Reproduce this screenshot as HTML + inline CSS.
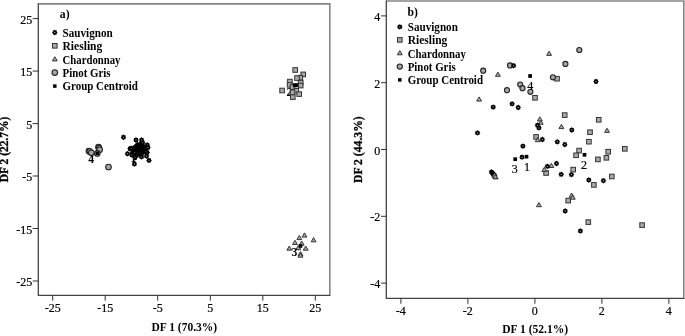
<!DOCTYPE html>
<html><head><meta charset="utf-8"><title>Discriminant function plots</title>
<style>html,body{margin:0;padding:0;background:#fff}svg{display:block}text{font-family:"Liberation Serif",serif;fill:#000}.r{stroke:#000;stroke-width:.1px}.r2{stroke:#000;stroke-width:.2px}.b{font-weight:bold}</style></head><body>
<svg width="685" height="336" viewBox="0 0 685 336">
<rect width="685" height="336" fill="#fff"/>
<g id="panel-a">
<path d="M38.3 3.9H329.8V295.3" fill="none" stroke="#858585" stroke-width="1.6"/>
<path d="M38.3 3.3V295.3H330.4" fill="none" stroke="#444" stroke-width="1.3"/>
<line x1="32.7" y1="18.6" x2="38.3" y2="18.6" stroke="#262626" stroke-width="0.95"/>
<text x="32.20" y="23.80" font-size="12" class="r2" text-anchor="end">25</text>
<line x1="315.3" y1="295.3" x2="315.3" y2="300.7" stroke="#262626" stroke-width="0.95"/>
<text x="315.30" y="312.40" font-size="12" class="r2" text-anchor="middle">25</text>
<line x1="32.7" y1="71.1" x2="38.3" y2="71.1" stroke="#262626" stroke-width="0.95"/>
<text x="32.20" y="76.28" font-size="12" class="r2" text-anchor="end">15</text>
<line x1="262.8" y1="295.3" x2="262.8" y2="300.7" stroke="#262626" stroke-width="0.95"/>
<text x="262.78" y="312.40" font-size="12" class="r2" text-anchor="middle">15</text>
<line x1="32.7" y1="123.6" x2="38.3" y2="123.6" stroke="#262626" stroke-width="0.95"/>
<text x="32.20" y="128.76" font-size="12" class="r2" text-anchor="end">5</text>
<line x1="210.3" y1="295.3" x2="210.3" y2="300.7" stroke="#262626" stroke-width="0.95"/>
<text x="210.26" y="312.40" font-size="12" class="r2" text-anchor="middle">5</text>
<line x1="32.7" y1="176.0" x2="38.3" y2="176.0" stroke="#262626" stroke-width="0.95"/>
<text x="32.20" y="181.24" font-size="12" class="r2" text-anchor="end">-5</text>
<line x1="157.7" y1="295.3" x2="157.7" y2="300.7" stroke="#262626" stroke-width="0.95"/>
<text x="157.74" y="312.40" font-size="12" class="r2" text-anchor="middle">-5</text>
<line x1="32.7" y1="228.5" x2="38.3" y2="228.5" stroke="#262626" stroke-width="0.95"/>
<text x="32.20" y="233.72" font-size="12" class="r2" text-anchor="end">-15</text>
<line x1="105.2" y1="295.3" x2="105.2" y2="300.7" stroke="#262626" stroke-width="0.95"/>
<text x="105.22" y="312.40" font-size="12" class="r2" text-anchor="middle">-15</text>
<line x1="32.7" y1="281.0" x2="38.3" y2="281.0" stroke="#262626" stroke-width="0.95"/>
<text x="32.20" y="286.20" font-size="12" class="r2" text-anchor="end">-25</text>
<line x1="52.7" y1="295.3" x2="52.7" y2="300.7" stroke="#262626" stroke-width="0.95"/>
<text x="52.70" y="312.40" font-size="12" class="r2" text-anchor="middle">-25</text>
<text x="151.40" y="330.60" font-size="11.5" class="b" textLength="65.8" lengthAdjust="spacingAndGlyphs">DF 1 (70.3%)</text>
<text transform="translate(8.0,182.2) rotate(-90)" font-size="11.5" class="b" stroke="#000" stroke-width="0.3" textLength="65.6" lengthAdjust="spacingAndGlyphs">DF 2 (22.7%)</text>
<text x="59.80" y="18.20" font-size="11.7" class="b">a)</text>
<polygon points="57.75,32.50 56.93,33.07 56.71,33.60 56.89,34.59 55.90,34.41 55.37,34.63 54.80,35.45 54.23,34.63 53.70,34.41 52.71,34.59 52.89,33.60 52.67,33.07 51.85,32.50 52.67,31.93 52.89,31.40 52.71,30.41 53.70,30.59 54.23,30.37 54.80,29.55 55.37,30.37 55.90,30.59 56.89,30.41 56.71,31.40 56.93,31.93" fill="#000"/><ellipse cx="54.80" cy="32.50" rx="0.70" ry="0.48" fill="#fff"/>
<text x="62.50" y="36.70" font-size="11.7" class="b" textLength="50.2" lengthAdjust="spacingAndGlyphs">Sauvignon</text>
<rect x="52.50" y="43.50" width="4.60" height="4.60" fill="#a9a9a9" stroke="#333" stroke-width="1"/>
<text x="62.50" y="49.70" font-size="11.7" class="b" textLength="39.8" lengthAdjust="spacingAndGlyphs">Riesling</text>
<polygon points="54.80,56.70 57.25,60.90 52.35,60.90" fill="#a4a4a4" stroke="#303030" stroke-width="0.95" stroke-linejoin="miter"/>
<text x="62.50" y="63.70" font-size="11.7" class="b" textLength="58.0" lengthAdjust="spacingAndGlyphs">Chardonnay</text>
<circle cx="54.80" cy="72.60" r="2.80" fill="#a6a6a6" stroke="#222" stroke-width="1.1"/>
<text x="62.50" y="76.90" font-size="11.7" class="b" textLength="48.0" lengthAdjust="spacingAndGlyphs">Pinot Gris</text>
<rect x="53.05" y="84.35" width="3.50" height="3.50" fill="#000"/>
<text x="62.50" y="90.40" font-size="11.7" class="b" textLength="75.3" lengthAdjust="spacingAndGlyphs">Group Centroid</text>
<circle cx="88.90" cy="151.00" r="2.80" fill="#a6a6a6" stroke="#222" stroke-width="1.1"/>
<circle cx="89.80" cy="151.60" r="2.80" fill="#a6a6a6" stroke="#222" stroke-width="1.1"/>
<circle cx="91.30" cy="152.80" r="2.80" fill="#a6a6a6" stroke="#222" stroke-width="1.1"/>
<circle cx="98.50" cy="147.10" r="2.80" fill="#a6a6a6" stroke="#222" stroke-width="1.1"/>
<circle cx="99.00" cy="148.20" r="2.80" fill="#a6a6a6" stroke="#222" stroke-width="1.1"/>
<circle cx="99.60" cy="149.80" r="2.80" fill="#a6a6a6" stroke="#222" stroke-width="1.1"/>
<circle cx="97.30" cy="153.40" r="2.80" fill="#a6a6a6" stroke="#222" stroke-width="1.1"/>
<circle cx="108.50" cy="167.00" r="2.80" fill="#a6a6a6" stroke="#222" stroke-width="1.1"/>
<rect x="95.60" y="151.60" width="3.40" height="3.40" fill="#000"/>
<text x="91.20" y="162.80" font-size="11.7" class="b" text-anchor="middle">4</text>
<text x="289.30" y="95.50" font-size="11.7" class="b" text-anchor="middle">2</text>
<rect x="292.90" y="67.70" width="4.60" height="4.60" fill="#a9a9a9" stroke="#333" stroke-width="1"/>
<rect x="300.90" y="72.10" width="4.60" height="4.60" fill="#a9a9a9" stroke="#333" stroke-width="1"/>
<rect x="298.00" y="75.40" width="4.60" height="4.60" fill="#a9a9a9" stroke="#333" stroke-width="1"/>
<rect x="294.70" y="75.80" width="4.60" height="4.60" fill="#a9a9a9" stroke="#333" stroke-width="1"/>
<rect x="287.60" y="79.30" width="4.60" height="4.60" fill="#a9a9a9" stroke="#333" stroke-width="1"/>
<rect x="298.40" y="80.30" width="4.60" height="4.60" fill="#a9a9a9" stroke="#333" stroke-width="1"/>
<rect x="298.40" y="83.30" width="4.60" height="4.60" fill="#a9a9a9" stroke="#333" stroke-width="1"/>
<rect x="287.30" y="82.60" width="4.60" height="4.60" fill="#a9a9a9" stroke="#333" stroke-width="1"/>
<rect x="279.80" y="88.20" width="4.60" height="4.60" fill="#a9a9a9" stroke="#333" stroke-width="1"/>
<rect x="290.20" y="84.80" width="4.60" height="4.60" fill="#a9a9a9" stroke="#333" stroke-width="1"/>
<rect x="293.95" y="88.50" width="4.60" height="4.60" fill="#a9a9a9" stroke="#333" stroke-width="1"/>
<rect x="290.20" y="90.00" width="4.60" height="4.60" fill="#a9a9a9" stroke="#333" stroke-width="1"/>
<rect x="296.90" y="91.80" width="4.60" height="4.60" fill="#a9a9a9" stroke="#333" stroke-width="1"/>
<rect x="290.50" y="94.80" width="4.60" height="4.60" fill="#a9a9a9" stroke="#333" stroke-width="1"/>
<rect x="293" y="83.2" width="5" height="4" fill="#000"/>
<polygon points="304.50,232.90 306.95,237.10 302.05,237.10" fill="#a4a4a4" stroke="#303030" stroke-width="0.95" stroke-linejoin="miter"/>
<polygon points="299.30,235.40 301.75,239.60 296.85,239.60" fill="#a4a4a4" stroke="#303030" stroke-width="0.95" stroke-linejoin="miter"/>
<polygon points="313.60,237.60 316.05,241.80 311.15,241.80" fill="#a4a4a4" stroke="#303030" stroke-width="0.95" stroke-linejoin="miter"/>
<polygon points="295.00,240.30 297.45,244.50 292.55,244.50" fill="#a4a4a4" stroke="#303030" stroke-width="0.95" stroke-linejoin="miter"/>
<polygon points="301.70,241.00 304.15,245.20 299.25,245.20" fill="#a4a4a4" stroke="#303030" stroke-width="0.95" stroke-linejoin="miter"/>
<polygon points="289.30,246.00 291.75,250.20 286.85,250.20" fill="#a4a4a4" stroke="#303030" stroke-width="0.95" stroke-linejoin="miter"/>
<polygon points="305.70,246.00 308.15,250.20 303.25,250.20" fill="#a4a4a4" stroke="#303030" stroke-width="0.95" stroke-linejoin="miter"/>
<polygon points="298.30,245.50 300.75,249.70 295.85,249.70" fill="#a4a4a4" stroke="#303030" stroke-width="0.95" stroke-linejoin="miter"/>
<polygon points="300.50,251.50 302.95,255.70 298.05,255.70" fill="#a4a4a4" stroke="#303030" stroke-width="0.95" stroke-linejoin="miter"/>
<polygon points="300.50,253.00 302.95,257.20 298.05,257.20" fill="#a4a4a4" stroke="#303030" stroke-width="0.95" stroke-linejoin="miter"/>
<rect x="298.70" y="244.20" width="3.60" height="3.60" fill="#000"/>
<text x="294.50" y="255.70" font-size="11.7" class="b" text-anchor="middle">3</text>
<text x="133.50" y="161.50" font-size="11.7" class="b" text-anchor="middle">1</text>
<ellipse cx="139.6" cy="149.2" rx="7.6" ry="6.2" fill="#000"/>
<polygon points="126.45,137.25 125.63,137.82 125.41,138.35 125.59,139.34 124.60,139.16 124.07,139.38 123.50,140.20 122.93,139.38 122.40,139.16 121.41,139.34 121.59,138.35 121.37,137.82 120.55,137.25 121.37,136.68 121.59,136.15 121.41,135.16 122.40,135.34 122.93,135.12 123.50,134.30 124.07,135.12 124.60,135.34 125.59,135.16 125.41,136.15 125.63,136.68" fill="#000"/><ellipse cx="123.50" cy="137.25" rx="0.61" ry="0.42" fill="#fff"/>
<polygon points="138.95,140.00 138.13,140.57 137.91,141.10 138.09,142.09 137.10,141.91 136.57,142.13 136.00,142.95 135.43,142.13 134.90,141.91 133.91,142.09 134.09,141.10 133.87,140.57 133.05,140.00 133.87,139.43 134.09,138.90 133.91,137.91 134.90,138.09 135.43,137.87 136.00,137.05 136.57,137.87 137.10,138.09 138.09,137.91 137.91,138.90 138.13,139.43" fill="#000"/><ellipse cx="136.00" cy="140.00" rx="0.61" ry="0.42" fill="#fff"/>
<polygon points="144.55,140.00 143.73,140.57 143.51,141.10 143.69,142.09 142.70,141.91 142.17,142.13 141.60,142.95 141.03,142.13 140.50,141.91 139.51,142.09 139.69,141.10 139.47,140.57 138.65,140.00 139.47,139.43 139.69,138.90 139.51,137.91 140.50,138.09 141.03,137.87 141.60,137.05 142.17,137.87 142.70,138.09 143.69,137.91 143.51,138.90 143.73,139.43" fill="#000"/><ellipse cx="141.60" cy="140.00" rx="0.61" ry="0.42" fill="#fff"/>
<polygon points="132.95,148.75 132.13,149.32 131.91,149.85 132.09,150.84 131.10,150.66 130.57,150.88 130.00,151.70 129.43,150.88 128.90,150.66 127.91,150.84 128.09,149.85 127.87,149.32 127.05,148.75 127.87,148.18 128.09,147.65 127.91,146.66 128.90,146.84 129.43,146.62 130.00,145.80 130.57,146.62 131.10,146.84 132.09,146.66 131.91,147.65 132.13,148.18" fill="#000"/><ellipse cx="130.00" cy="148.75" rx="0.61" ry="0.42" fill="#fff"/>
<polygon points="130.45,153.75 129.63,154.32 129.41,154.85 129.59,155.84 128.60,155.66 128.07,155.88 127.50,156.70 126.93,155.88 126.40,155.66 125.41,155.84 125.59,154.85 125.37,154.32 124.55,153.75 125.37,153.18 125.59,152.65 125.41,151.66 126.40,151.84 126.93,151.62 127.50,150.80 128.07,151.62 128.60,151.84 129.59,151.66 129.41,152.65 129.63,153.18" fill="#000"/><ellipse cx="127.50" cy="153.75" rx="0.61" ry="0.42" fill="#fff"/>
<polygon points="134.85,155.00 134.03,155.57 133.81,156.10 133.99,157.09 133.00,156.91 132.47,157.13 131.90,157.95 131.33,157.13 130.80,156.91 129.81,157.09 129.99,156.10 129.77,155.57 128.95,155.00 129.77,154.43 129.99,153.90 129.81,152.91 130.80,153.09 131.33,152.87 131.90,152.05 132.47,152.87 133.00,153.09 133.99,152.91 133.81,153.90 134.03,154.43" fill="#000"/><ellipse cx="131.90" cy="155.00" rx="0.61" ry="0.42" fill="#fff"/>
<polygon points="150.20,145.00 149.38,145.57 149.16,146.10 149.34,147.09 148.35,146.91 147.82,147.13 147.25,147.95 146.68,147.13 146.15,146.91 145.16,147.09 145.34,146.10 145.12,145.57 144.30,145.00 145.12,144.43 145.34,143.90 145.16,142.91 146.15,143.09 146.68,142.87 147.25,142.05 147.82,142.87 148.35,143.09 149.34,142.91 149.16,143.90 149.38,144.43" fill="#000"/><ellipse cx="147.25" cy="145.00" rx="0.61" ry="0.42" fill="#fff"/>
<polygon points="150.95,147.50 150.13,148.07 149.91,148.60 150.09,149.59 149.10,149.41 148.57,149.63 148.00,150.45 147.43,149.63 146.90,149.41 145.91,149.59 146.09,148.60 145.87,148.07 145.05,147.50 145.87,146.93 146.09,146.40 145.91,145.41 146.90,145.59 147.43,145.37 148.00,144.55 148.57,145.37 149.10,145.59 150.09,145.41 149.91,146.40 150.13,146.93" fill="#000"/><ellipse cx="148.00" cy="147.50" rx="0.61" ry="0.42" fill="#fff"/>
<polygon points="150.20,152.50 149.38,153.07 149.16,153.60 149.34,154.59 148.35,154.41 147.82,154.63 147.25,155.45 146.68,154.63 146.15,154.41 145.16,154.59 145.34,153.60 145.12,153.07 144.30,152.50 145.12,151.93 145.34,151.40 145.16,150.41 146.15,150.59 146.68,150.37 147.25,149.55 147.82,150.37 148.35,150.59 149.34,150.41 149.16,151.40 149.38,151.93" fill="#000"/><ellipse cx="147.25" cy="152.50" rx="0.61" ry="0.42" fill="#fff"/>
<polygon points="149.45,156.00 148.63,156.57 148.41,157.10 148.59,158.09 147.60,157.91 147.07,158.13 146.50,158.95 145.93,158.13 145.40,157.91 144.41,158.09 144.59,157.10 144.37,156.57 143.55,156.00 144.37,155.43 144.59,154.90 144.41,153.91 145.40,154.09 145.93,153.87 146.50,153.05 147.07,153.87 147.60,154.09 148.59,153.91 148.41,154.90 148.63,155.43" fill="#000"/><ellipse cx="146.50" cy="156.00" rx="0.61" ry="0.42" fill="#fff"/>
<polygon points="144.45,156.90 143.63,157.47 143.41,158.00 143.59,158.99 142.60,158.81 142.07,159.03 141.50,159.85 140.93,159.03 140.40,158.81 139.41,158.99 139.59,158.00 139.37,157.47 138.55,156.90 139.37,156.33 139.59,155.80 139.41,154.81 140.40,154.99 140.93,154.77 141.50,153.95 142.07,154.77 142.60,154.99 143.59,154.81 143.41,155.80 143.63,156.33" fill="#000"/><ellipse cx="141.50" cy="156.90" rx="0.61" ry="0.42" fill="#fff"/>
<polygon points="137.95,157.75 137.13,158.32 136.91,158.85 137.09,159.84 136.10,159.66 135.57,159.88 135.00,160.70 134.43,159.88 133.90,159.66 132.91,159.84 133.09,158.85 132.87,158.32 132.05,157.75 132.87,157.18 133.09,156.65 132.91,155.66 133.90,155.84 134.43,155.62 135.00,154.80 135.57,155.62 136.10,155.84 137.09,155.66 136.91,156.65 137.13,157.18" fill="#000"/><ellipse cx="135.00" cy="157.75" rx="0.61" ry="0.42" fill="#fff"/>
<polygon points="151.95,160.40 151.13,160.97 150.91,161.50 151.09,162.49 150.10,162.31 149.57,162.53 149.00,163.35 148.43,162.53 147.90,162.31 146.91,162.49 147.09,161.50 146.87,160.97 146.05,160.40 146.87,159.83 147.09,159.30 146.91,158.31 147.90,158.49 148.43,158.27 149.00,157.45 149.57,158.27 150.10,158.49 151.09,158.31 150.91,159.30 151.13,159.83" fill="#000"/><ellipse cx="149.00" cy="160.40" rx="0.61" ry="0.42" fill="#fff"/>
<polygon points="137.35,164.00 136.53,164.57 136.31,165.10 136.49,166.09 135.50,165.91 134.97,166.13 134.40,166.95 133.83,166.13 133.30,165.91 132.31,166.09 132.49,165.10 132.27,164.57 131.45,164.00 132.27,163.43 132.49,162.90 132.31,161.91 133.30,162.09 133.83,161.87 134.40,161.05 134.97,161.87 135.50,162.09 136.49,161.91 136.31,162.90 136.53,163.43" fill="#000"/><ellipse cx="134.40" cy="164.00" rx="0.61" ry="0.42" fill="#fff"/>
<polygon points="141.23,151.14 140.40,151.71 140.18,152.24 140.36,153.23 139.38,153.05 138.85,153.27 138.28,154.09 137.71,153.27 137.18,153.05 136.19,153.23 136.37,152.24 136.15,151.71 135.33,151.14 136.15,150.57 136.37,150.04 136.19,149.06 137.18,149.24 137.71,149.02 138.28,148.19 138.85,149.02 139.38,149.24 140.36,149.06 140.18,150.04 140.40,150.57" fill="#000"/>
<polygon points="141.35,148.17 140.52,148.74 140.30,149.27 140.48,150.25 139.50,150.07 138.97,150.29 138.40,151.12 137.83,150.29 137.30,150.07 136.31,150.25 136.49,149.27 136.27,148.74 135.45,148.17 136.27,147.60 136.49,147.07 136.31,146.08 137.30,146.26 137.83,146.04 138.40,145.22 138.97,146.04 139.50,146.26 140.48,146.08 140.30,147.07 140.52,147.60" fill="#000"/>
<polygon points="138.53,148.53 137.70,149.10 137.49,149.63 137.67,150.62 136.68,150.44 136.15,150.66 135.58,151.48 135.01,150.66 134.48,150.44 133.49,150.62 133.67,149.63 133.45,149.10 132.63,148.53 133.45,147.96 133.67,147.43 133.49,146.45 134.48,146.63 135.01,146.41 135.58,145.58 136.15,146.41 136.68,146.63 137.67,146.45 137.49,147.43 137.70,147.96" fill="#000"/>
<polygon points="146.70,150.83 145.87,151.40 145.65,151.93 145.83,152.91 144.85,152.73 144.32,152.95 143.75,153.78 143.18,152.95 142.65,152.73 141.66,152.91 141.84,151.93 141.62,151.40 140.80,150.83 141.62,150.26 141.84,149.73 141.66,148.74 142.65,148.92 143.18,148.70 143.75,147.88 144.32,148.70 144.85,148.92 145.83,148.74 145.65,149.73 145.87,150.26" fill="#000"/>
<polygon points="146.40,150.20 145.57,150.77 145.35,151.30 145.53,152.28 144.55,152.10 144.02,152.32 143.45,153.15 142.88,152.32 142.35,152.10 141.36,152.28 141.54,151.30 141.32,150.77 140.50,150.20 141.32,149.63 141.54,149.10 141.36,148.11 142.35,148.29 142.88,148.07 143.45,147.25 144.02,148.07 144.55,148.29 145.53,148.11 145.35,149.10 145.57,149.63" fill="#000"/>
<polygon points="143.83,149.97 143.00,150.54 142.78,151.07 142.97,152.05 141.98,151.87 141.45,152.09 140.88,152.92 140.31,152.09 139.78,151.87 138.79,152.05 138.97,151.07 138.75,150.54 137.93,149.97 138.75,149.40 138.97,148.87 138.79,147.88 139.78,148.06 140.31,147.84 140.88,147.02 141.45,147.84 141.98,148.06 142.97,147.88 142.78,148.87 143.00,149.40" fill="#000"/>
<polygon points="135.59,152.38 134.76,152.95 134.54,153.48 134.72,154.46 133.74,154.28 133.21,154.50 132.64,155.33 132.07,154.50 131.54,154.28 130.55,154.46 130.73,153.48 130.51,152.95 129.69,152.38 130.51,151.81 130.73,151.28 130.55,150.29 131.54,150.47 132.07,150.25 132.64,149.43 133.21,150.25 133.74,150.47 134.72,150.29 134.54,151.28 134.76,151.81" fill="#000"/><ellipse cx="132.64" cy="152.38" rx="0.52" ry="0.36" fill="#fff"/>
<polygon points="144.28,151.10 143.45,151.67 143.23,152.20 143.41,153.18 142.43,153.00 141.89,153.22 141.33,154.05 140.76,153.22 140.23,153.00 139.24,153.18 139.42,152.20 139.20,151.67 138.38,151.10 139.20,150.53 139.42,150.00 139.24,149.01 140.23,149.19 140.76,148.97 141.33,148.15 141.89,148.97 142.43,149.19 143.41,149.01 143.23,150.00 143.45,150.53" fill="#000"/>
<polygon points="138.69,147.61 137.87,148.18 137.65,148.71 137.83,149.70 136.84,149.52 136.31,149.74 135.74,150.56 135.17,149.74 134.64,149.52 133.66,149.70 133.84,148.71 133.62,148.18 132.79,147.61 133.62,147.05 133.84,146.51 133.66,145.53 134.64,145.71 135.17,145.49 135.74,144.66 136.31,145.49 136.84,145.71 137.83,145.53 137.65,146.51 137.87,147.05" fill="#000"/>
<polygon points="143.47,149.13 142.65,149.70 142.43,150.23 142.61,151.22 141.62,151.04 141.09,151.26 140.52,152.08 139.95,151.26 139.42,151.04 138.44,151.22 138.62,150.23 138.40,149.70 137.57,149.13 138.40,148.57 138.62,148.03 138.44,147.05 139.42,147.23 139.95,147.01 140.52,146.18 141.09,147.01 141.62,147.23 142.61,147.05 142.43,148.03 142.65,148.57" fill="#000"/>
<polygon points="144.33,146.99 143.51,147.56 143.29,148.09 143.47,149.07 142.48,148.89 141.95,149.11 141.38,149.94 140.81,149.11 140.28,148.89 139.30,149.07 139.48,148.09 139.26,147.56 138.43,146.99 139.26,146.42 139.48,145.89 139.30,144.90 140.28,145.08 140.81,144.86 141.38,144.04 141.95,144.86 142.48,145.08 143.47,144.90 143.29,145.89 143.51,146.42" fill="#000"/>
<polygon points="143.48,150.72 142.66,151.29 142.44,151.82 142.62,152.80 141.63,152.62 141.10,152.84 140.53,153.67 139.97,152.84 139.43,152.62 138.45,152.80 138.63,151.82 138.41,151.29 137.58,150.72 138.41,150.15 138.63,149.62 138.45,148.63 139.43,148.81 139.97,148.59 140.53,147.77 141.10,148.59 141.63,148.81 142.62,148.63 142.44,149.62 142.66,150.15" fill="#000"/>
<polygon points="139.61,155.48 138.78,156.05 138.56,156.58 138.74,157.57 137.76,157.39 137.22,157.61 136.66,158.43 136.09,157.61 135.56,157.39 134.57,157.57 134.75,156.58 134.53,156.05 133.71,155.48 134.53,154.91 134.75,154.38 134.57,153.40 135.56,153.58 136.09,153.36 136.66,152.53 137.22,153.36 137.76,153.58 138.74,153.40 138.56,154.38 138.78,154.91" fill="#000"/><ellipse cx="136.66" cy="155.48" rx="0.52" ry="0.36" fill="#fff"/>
<polygon points="144.48,153.61 143.65,154.18 143.43,154.71 143.61,155.70 142.63,155.51 142.10,155.73 141.53,156.56 140.96,155.73 140.43,155.51 139.44,155.70 139.62,154.71 139.40,154.18 138.58,153.61 139.40,153.04 139.62,152.51 139.44,151.52 140.43,151.70 140.96,151.48 141.53,150.66 142.10,151.48 142.63,151.70 143.61,151.52 143.43,152.51 143.65,153.04" fill="#000"/>
<polygon points="139.77,146.64 138.94,147.21 138.72,147.74 138.90,148.72 137.92,148.54 137.39,148.76 136.82,149.59 136.25,148.76 135.72,148.54 134.73,148.72 134.91,147.74 134.69,147.21 133.87,146.64 134.69,146.07 134.91,145.54 134.73,144.55 135.72,144.73 136.25,144.51 136.82,143.69 137.39,144.51 137.92,144.73 138.90,144.55 138.72,145.54 138.94,146.07" fill="#000"/>
<polygon points="140.87,148.92 140.05,149.49 139.83,150.02 140.01,151.00 139.02,150.82 138.49,151.04 137.92,151.87 137.35,151.04 136.82,150.82 135.84,151.00 136.02,150.02 135.80,149.49 134.97,148.92 135.80,148.35 136.02,147.82 135.84,146.83 136.82,147.01 137.35,146.79 137.92,145.97 138.49,146.79 139.02,147.01 140.01,146.83 139.83,147.82 140.05,148.35" fill="#000"/>
<polygon points="144.78,150.19 143.95,150.76 143.73,151.29 143.91,152.28 142.93,152.10 142.40,152.32 141.83,153.14 141.26,152.32 140.73,152.10 139.74,152.28 139.92,151.29 139.70,150.76 138.88,150.19 139.70,149.62 139.92,149.09 139.74,148.11 140.73,148.29 141.26,148.07 141.83,147.24 142.40,148.07 142.93,148.29 143.91,148.11 143.73,149.09 143.95,149.62" fill="#000"/>
<polygon points="140.46,145.86 139.64,146.42 139.42,146.96 139.60,147.94 138.61,147.76 138.08,147.98 137.51,148.81 136.94,147.98 136.41,147.76 135.42,147.94 135.61,146.96 135.39,146.42 134.56,145.86 135.39,145.29 135.61,144.76 135.42,143.77 136.41,143.95 136.94,143.73 137.51,142.91 138.08,143.73 138.61,143.95 139.60,143.77 139.42,144.76 139.64,145.29" fill="#000"/>
<polygon points="140.17,153.70 139.34,154.26 139.12,154.80 139.30,155.78 138.32,155.60 137.79,155.82 137.22,156.65 136.65,155.82 136.12,155.60 135.13,155.78 135.31,154.80 135.09,154.26 134.27,153.70 135.09,153.13 135.31,152.60 135.13,151.61 136.12,151.79 136.65,151.57 137.22,150.75 137.79,151.57 138.32,151.79 139.30,151.61 139.12,152.60 139.34,153.13" fill="#000"/>
<polygon points="139.02,150.18 138.19,150.75 137.97,151.28 138.15,152.27 137.17,152.09 136.64,152.31 136.07,153.13 135.50,152.31 134.97,152.09 133.98,152.27 134.16,151.28 133.94,150.75 133.12,150.18 133.94,149.61 134.16,149.08 133.98,148.10 134.97,148.28 135.50,148.06 136.07,147.23 136.64,148.06 137.17,148.28 138.15,148.10 137.97,149.08 138.19,149.61" fill="#000"/>
<polygon points="143.96,143.94 143.13,144.51 142.91,145.04 143.09,146.02 142.11,145.84 141.58,146.06 141.01,146.89 140.44,146.06 139.91,145.84 138.92,146.02 139.10,145.04 138.88,144.51 138.06,143.94 138.88,143.37 139.10,142.84 138.92,141.85 139.91,142.03 140.44,141.81 141.01,140.99 141.58,141.81 142.11,142.03 143.09,141.85 142.91,142.84 143.13,143.37" fill="#000"/>
<polygon points="142.44,154.00 141.62,154.57 141.40,155.10 141.58,156.09 140.59,155.91 140.06,156.13 139.49,156.95 138.92,156.13 138.39,155.91 137.41,156.09 137.59,155.10 137.37,154.57 136.54,154.00 137.37,153.43 137.59,152.90 137.41,151.92 138.39,152.10 138.92,151.88 139.49,151.05 140.06,151.88 140.59,152.10 141.58,151.92 141.40,152.90 141.62,153.43" fill="#000"/>
<polygon points="134.19,148.14 133.37,148.71 133.15,149.24 133.33,150.23 132.34,150.05 131.81,150.27 131.24,151.09 130.67,150.27 130.14,150.05 129.16,150.23 129.34,149.24 129.12,148.71 128.29,148.14 129.12,147.57 129.34,147.04 129.16,146.06 130.14,146.24 130.67,146.02 131.24,145.19 131.81,146.02 132.34,146.24 133.33,146.06 133.15,147.04 133.37,147.57" fill="#000"/><ellipse cx="131.24" cy="148.14" rx="0.52" ry="0.36" fill="#fff"/>
<polygon points="141.83,146.36 141.00,146.93 140.78,147.46 140.96,148.44 139.98,148.26 139.44,148.48 138.88,149.31 138.31,148.48 137.78,148.26 136.79,148.44 136.97,147.46 136.75,146.93 135.93,146.36 136.75,145.79 136.97,145.26 136.79,144.27 137.78,144.45 138.31,144.23 138.88,143.41 139.44,144.23 139.98,144.45 140.96,144.27 140.78,145.26 141.00,145.79" fill="#000"/>
<polygon points="144.24,149.08 143.41,149.65 143.19,150.18 143.38,151.16 142.39,150.98 141.86,151.20 141.29,152.03 140.72,151.20 140.19,150.98 139.20,151.16 139.38,150.18 139.16,149.65 138.34,149.08 139.16,148.51 139.38,147.98 139.20,146.99 140.19,147.17 140.72,146.95 141.29,146.13 141.86,146.95 142.39,147.17 143.38,146.99 143.19,147.98 143.41,148.51" fill="#000"/>
<polygon points="136.39,152.28 135.57,152.85 135.35,153.38 135.53,154.37 134.54,154.19 134.01,154.41 133.44,155.23 132.87,154.41 132.34,154.19 131.36,154.37 131.54,153.38 131.32,152.85 130.49,152.28 131.32,151.71 131.54,151.18 131.36,150.19 132.34,150.37 132.87,150.16 133.44,149.33 134.01,150.16 134.54,150.37 135.53,150.19 135.35,151.18 135.57,151.71" fill="#000"/><ellipse cx="133.44" cy="152.28" rx="0.52" ry="0.36" fill="#fff"/>
<polygon points="144.93,152.71 144.10,153.27 143.88,153.81 144.06,154.79 143.08,154.61 142.55,154.83 141.98,155.66 141.41,154.83 140.88,154.61 139.89,154.79 140.07,153.81 139.85,153.27 139.03,152.71 139.85,152.14 140.07,151.61 139.89,150.62 140.88,150.80 141.41,150.58 141.98,149.76 142.55,150.58 143.08,150.80 144.06,150.62 143.88,151.61 144.10,152.14" fill="#000"/>
<polygon points="148.01,150.60 147.19,151.17 146.97,151.70 147.15,152.69 146.16,152.51 145.63,152.73 145.06,153.55 144.49,152.73 143.96,152.51 142.98,152.69 143.16,151.70 142.94,151.17 142.11,150.60 142.94,150.03 143.16,149.50 142.98,148.52 143.96,148.70 144.49,148.48 145.06,147.65 145.63,148.48 146.16,148.70 147.15,148.52 146.97,149.50 147.19,150.03" fill="#000"/>
<polygon points="142.73,144.62 141.90,145.19 141.68,145.72 141.86,146.71 140.88,146.53 140.35,146.75 139.78,147.57 139.21,146.75 138.68,146.53 137.69,146.71 137.87,145.72 137.65,145.19 136.83,144.62 137.65,144.05 137.87,143.52 137.69,142.54 138.68,142.72 139.21,142.50 139.78,141.67 140.35,142.50 140.88,142.72 141.86,142.54 141.68,143.52 141.90,144.05" fill="#000"/>
<polygon points="144.71,147.10 143.89,147.67 143.67,148.20 143.85,149.18 142.86,149.00 142.33,149.22 141.76,150.05 141.19,149.22 140.66,149.00 139.68,149.18 139.86,148.20 139.64,147.67 138.81,147.10 139.64,146.53 139.86,146.00 139.68,145.01 140.66,145.19 141.19,144.97 141.76,144.15 142.33,144.97 142.86,145.19 143.85,145.01 143.67,146.00 143.89,146.53" fill="#000"/>
<polygon points="140.44,144.75 139.61,145.32 139.39,145.85 139.58,146.83 138.59,146.65 138.06,146.87 137.49,147.70 136.92,146.87 136.39,146.65 135.40,146.83 135.58,145.85 135.36,145.32 134.54,144.75 135.36,144.18 135.58,143.65 135.40,142.66 136.39,142.84 136.92,142.62 137.49,141.80 138.06,142.62 138.59,142.84 139.58,142.66 139.39,143.65 139.61,144.18" fill="#000"/>
<polygon points="138.38,147.39 137.55,147.96 137.33,148.49 137.52,149.47 136.53,149.29 136.00,149.51 135.43,150.34 134.86,149.51 134.33,149.29 133.34,149.47 133.52,148.49 133.30,147.96 132.48,147.39 133.30,146.82 133.52,146.29 133.34,145.30 134.33,145.48 134.86,145.26 135.43,144.44 136.00,145.26 136.53,145.48 137.52,145.30 137.33,146.29 137.55,146.82" fill="#000"/>
<polygon points="136.42,150.16 135.59,150.73 135.37,151.26 135.56,152.25 134.57,152.07 134.04,152.29 133.47,153.11 132.90,152.29 132.37,152.07 131.38,152.25 131.56,151.26 131.34,150.73 130.52,150.16 131.34,149.59 131.56,149.06 131.38,148.08 132.37,148.26 132.90,148.04 133.47,147.21 134.04,148.04 134.57,148.26 135.56,148.08 135.37,149.06 135.59,149.59" fill="#000"/>
<polygon points="148.02,151.38 147.20,151.95 146.98,152.48 147.16,153.47 146.17,153.29 145.64,153.51 145.07,154.33 144.50,153.51 143.97,153.29 142.99,153.47 143.17,152.48 142.95,151.95 142.12,151.38 142.95,150.81 143.17,150.28 142.99,149.30 143.97,149.48 144.50,149.26 145.07,148.43 145.64,149.26 146.17,149.48 147.16,149.30 146.98,150.28 147.20,150.81" fill="#000"/><ellipse cx="145.07" cy="151.38" rx="0.52" ry="0.36" fill="#fff"/>
<polygon points="143.68,146.65 142.85,147.22 142.63,147.75 142.82,148.74 141.83,148.55 141.30,148.77 140.73,149.60 140.16,148.77 139.63,148.55 138.64,148.74 138.82,147.75 138.60,147.22 137.78,146.65 138.60,146.08 138.82,145.55 138.64,144.56 139.63,144.74 140.16,144.52 140.73,143.70 141.30,144.52 141.83,144.74 142.82,144.56 142.63,145.55 142.85,146.08" fill="#000"/>
<polygon points="137.77,152.82 136.95,153.39 136.73,153.92 136.91,154.90 135.92,154.72 135.39,154.94 134.82,155.77 134.25,154.94 133.72,154.72 132.73,154.90 132.92,153.92 132.70,153.39 131.87,152.82 132.70,152.25 132.92,151.72 132.73,150.73 133.72,150.91 134.25,150.69 134.82,149.87 135.39,150.69 135.92,150.91 136.91,150.73 136.73,151.72 136.95,152.25" fill="#000"/><ellipse cx="134.82" cy="152.82" rx="0.52" ry="0.36" fill="#fff"/>
<polygon points="146.66,149.87 145.83,150.44 145.61,150.97 145.79,151.95 144.81,151.77 144.28,151.99 143.71,152.82 143.14,151.99 142.61,151.77 141.62,151.95 141.80,150.97 141.58,150.44 140.76,149.87 141.58,149.30 141.80,148.77 141.62,147.78 142.61,147.96 143.14,147.74 143.71,146.92 144.28,147.74 144.81,147.96 145.79,147.78 145.61,148.77 145.83,149.30" fill="#000"/>
<polygon points="143.23,150.86 142.41,151.43 142.19,151.96 142.37,152.95 141.38,152.77 140.85,152.99 140.28,153.81 139.71,152.99 139.18,152.77 138.20,152.95 138.38,151.96 138.16,151.43 137.33,150.86 138.16,150.29 138.38,149.76 138.20,148.78 139.18,148.96 139.71,148.74 140.28,147.91 140.85,148.74 141.38,148.96 142.37,148.78 142.19,149.76 142.41,150.29" fill="#000"/>
<polygon points="148.63,151.53 147.80,152.10 147.58,152.63 147.76,153.61 146.78,153.43 146.25,153.65 145.68,154.48 145.11,153.65 144.58,153.43 143.59,153.61 143.77,152.63 143.55,152.10 142.73,151.53 143.55,150.96 143.77,150.43 143.59,149.44 144.58,149.62 145.11,149.40 145.68,148.58 146.25,149.40 146.78,149.62 147.76,149.44 147.58,150.43 147.80,150.96" fill="#000"/><ellipse cx="145.68" cy="151.53" rx="0.52" ry="0.36" fill="#fff"/>
<polygon points="144.32,151.27 143.50,151.84 143.28,152.37 143.46,153.36 142.47,153.18 141.94,153.40 141.37,154.22 140.81,153.40 140.27,153.18 139.29,153.36 139.47,152.37 139.25,151.84 138.42,151.27 139.25,150.70 139.47,150.17 139.29,149.19 140.27,149.37 140.81,149.15 141.37,148.32 141.94,149.15 142.47,149.37 143.46,149.19 143.28,150.17 143.50,150.70" fill="#000"/>
<polygon points="146.07,151.21 145.25,151.78 145.03,152.31 145.21,153.29 144.22,153.11 143.69,153.33 143.12,154.16 142.55,153.33 142.02,153.11 141.03,153.29 141.22,152.31 141.00,151.78 140.17,151.21 141.00,150.64 141.22,150.11 141.03,149.12 142.02,149.30 142.55,149.08 143.12,148.26 143.69,149.08 144.22,149.30 145.21,149.12 145.03,150.11 145.25,150.64" fill="#000"/>
<polygon points="145.62,142.78 144.79,143.35 144.57,143.88 144.76,144.87 143.77,144.68 143.24,144.90 142.67,145.73 142.10,144.90 141.57,144.68 140.58,144.87 140.76,143.88 140.54,143.35 139.72,142.78 140.54,142.21 140.76,141.68 140.58,140.69 141.57,140.87 142.10,140.65 142.67,139.83 143.24,140.65 143.77,140.87 144.76,140.69 144.57,141.68 144.79,142.21" fill="#000"/><ellipse cx="142.67" cy="142.78" rx="0.52" ry="0.36" fill="#fff"/>
<polygon points="141.51,152.97 140.69,153.54 140.47,154.07 140.65,155.06 139.66,154.88 139.13,155.10 138.56,155.92 137.99,155.10 137.46,154.88 136.48,155.06 136.66,154.07 136.44,153.54 135.61,152.97 136.44,152.40 136.66,151.87 136.48,150.88 137.46,151.07 137.99,150.85 138.56,150.02 139.13,150.85 139.66,151.07 140.65,150.88 140.47,151.87 140.69,152.40" fill="#000"/>
<polygon points="144.46,148.76 143.63,149.33 143.41,149.86 143.59,150.85 142.61,150.66 142.08,150.88 141.51,151.71 140.94,150.88 140.41,150.66 139.42,150.85 139.60,149.86 139.38,149.33 138.56,148.76 139.38,148.19 139.60,147.66 139.42,146.67 140.41,146.85 140.94,146.63 141.51,145.81 142.08,146.63 142.61,146.85 143.59,146.67 143.41,147.66 143.63,148.19" fill="#000"/>
<polygon points="143.55,151.64 142.72,152.21 142.50,152.74 142.69,153.73 141.70,153.54 141.17,153.76 140.60,154.59 140.03,153.76 139.50,153.54 138.51,153.73 138.69,152.74 138.47,152.21 137.65,151.64 138.47,151.07 138.69,150.54 138.51,149.55 139.50,149.73 140.03,149.51 140.60,148.69 141.17,149.51 141.70,149.73 142.69,149.55 142.50,150.54 142.72,151.07" fill="#000"/>
<rect x="137.50" y="147.70" width="3.60" height="3.60" fill="#000"/>
</g>
<g id="panel-b">
<path d="M386.3 1.0H683.8V298.3" fill="none" stroke="#858585" stroke-width="1.6"/>
<path d="M386.3 0.4V298.3H684.4" fill="none" stroke="#444" stroke-width="1.3"/>
<line x1="381.1" y1="15.9" x2="386.3" y2="15.9" stroke="#262626" stroke-width="0.95"/>
<text x="380.30" y="21.00" font-size="12" class="r2" text-anchor="end">4</text>
<line x1="668.9" y1="298.3" x2="668.9" y2="303.8" stroke="#262626" stroke-width="0.95"/>
<text x="668.85" y="315.20" font-size="12" class="r2" text-anchor="middle">4</text>
<line x1="381.1" y1="82.7" x2="386.3" y2="82.7" stroke="#262626" stroke-width="0.95"/>
<text x="380.30" y="87.80" font-size="12" class="r2" text-anchor="end">2</text>
<line x1="601.9" y1="298.3" x2="601.9" y2="303.8" stroke="#262626" stroke-width="0.95"/>
<text x="601.85" y="315.20" font-size="12" class="r2" text-anchor="middle">2</text>
<line x1="381.1" y1="149.5" x2="386.3" y2="149.5" stroke="#262626" stroke-width="0.95"/>
<text x="380.30" y="154.60" font-size="12" class="r2" text-anchor="end">0</text>
<line x1="534.9" y1="298.3" x2="534.9" y2="303.8" stroke="#262626" stroke-width="0.95"/>
<text x="534.85" y="315.20" font-size="12" class="r2" text-anchor="middle">0</text>
<line x1="381.1" y1="216.3" x2="386.3" y2="216.3" stroke="#262626" stroke-width="0.95"/>
<text x="380.30" y="221.40" font-size="12" class="r2" text-anchor="end">-2</text>
<line x1="467.9" y1="298.3" x2="467.9" y2="303.8" stroke="#262626" stroke-width="0.95"/>
<text x="467.85" y="315.20" font-size="12" class="r2" text-anchor="middle">-2</text>
<line x1="381.1" y1="283.1" x2="386.3" y2="283.1" stroke="#262626" stroke-width="0.95"/>
<text x="380.30" y="288.20" font-size="12" class="r2" text-anchor="end">-4</text>
<line x1="400.9" y1="298.3" x2="400.9" y2="303.8" stroke="#262626" stroke-width="0.95"/>
<text x="400.85" y="315.20" font-size="12" class="r2" text-anchor="middle">-4</text>
<text x="502.20" y="333.10" font-size="11.5" class="b" textLength="66.0" lengthAdjust="spacingAndGlyphs">DF 1 (52.1%)</text>
<text transform="translate(362.4,182.9) rotate(-90)" font-size="11.5" class="b" stroke="#000" stroke-width="0.3" textLength="66.6" lengthAdjust="spacingAndGlyphs">DF 2 (44.3%)</text>
<text x="407.60" y="16.00" font-size="11.7" class="b">b)</text>
<polygon points="402.75,26.90 401.93,27.47 401.71,28.00 401.89,28.99 400.90,28.81 400.37,29.03 399.80,29.85 399.23,29.03 398.70,28.81 397.71,28.99 397.89,28.00 397.67,27.47 396.85,26.90 397.67,26.33 397.89,25.80 397.71,24.81 398.70,24.99 399.23,24.77 399.80,23.95 400.37,24.77 400.90,24.99 401.89,24.81 401.71,25.80 401.93,26.33" fill="#000"/><ellipse cx="399.80" cy="26.90" rx="0.70" ry="0.48" fill="#fff"/>
<text x="407.70" y="31.00" font-size="11.7" class="b" textLength="50.2" lengthAdjust="spacingAndGlyphs">Sauvignon</text>
<rect x="397.50" y="37.60" width="4.60" height="4.60" fill="#a9a9a9" stroke="#333" stroke-width="1"/>
<text x="407.70" y="43.90" font-size="11.7" class="b" textLength="39.6" lengthAdjust="spacingAndGlyphs">Riesling</text>
<polygon points="399.80,50.60 402.25,54.80 397.35,54.80" fill="#a4a4a4" stroke="#303030" stroke-width="0.95" stroke-linejoin="miter"/>
<text x="407.70" y="57.90" font-size="11.7" class="b" textLength="58.2" lengthAdjust="spacingAndGlyphs">Chardonnay</text>
<circle cx="399.80" cy="66.60" r="2.60" fill="#a6a6a6" stroke="#222" stroke-width="1.1"/>
<text x="407.70" y="70.90" font-size="11.7" class="b" textLength="48.0" lengthAdjust="spacingAndGlyphs">Pinot Gris</text>
<rect x="398.05" y="78.15" width="3.50" height="3.50" fill="#000"/>
<text x="407.70" y="84.40" font-size="11.7" class="b" textLength="75.3" lengthAdjust="spacingAndGlyphs">Group Centroid</text>
<rect x="554.70" y="76.40" width="4.60" height="4.60" fill="#a9a9a9" stroke="#333" stroke-width="1"/>
<rect x="532.70" y="95.50" width="4.60" height="4.60" fill="#a9a9a9" stroke="#333" stroke-width="1"/>
<rect x="562.40" y="112.80" width="4.60" height="4.60" fill="#a9a9a9" stroke="#333" stroke-width="1"/>
<rect x="596.45" y="117.50" width="4.60" height="4.60" fill="#a9a9a9" stroke="#333" stroke-width="1"/>
<rect x="533.80" y="134.60" width="4.60" height="4.60" fill="#a9a9a9" stroke="#333" stroke-width="1"/>
<rect x="587.70" y="129.90" width="4.60" height="4.60" fill="#a9a9a9" stroke="#333" stroke-width="1"/>
<rect x="586.60" y="139.40" width="4.60" height="4.60" fill="#a9a9a9" stroke="#333" stroke-width="1"/>
<rect x="576.80" y="148.30" width="4.60" height="4.60" fill="#a9a9a9" stroke="#333" stroke-width="1"/>
<rect x="573.80" y="153.00" width="4.60" height="4.60" fill="#a9a9a9" stroke="#333" stroke-width="1"/>
<rect x="622.50" y="146.55" width="4.60" height="4.60" fill="#a9a9a9" stroke="#333" stroke-width="1"/>
<rect x="605.90" y="149.40" width="4.60" height="4.60" fill="#a9a9a9" stroke="#333" stroke-width="1"/>
<rect x="604.10" y="155.50" width="4.60" height="4.60" fill="#a9a9a9" stroke="#333" stroke-width="1"/>
<rect x="595.60" y="157.10" width="4.60" height="4.60" fill="#a9a9a9" stroke="#333" stroke-width="1"/>
<rect x="570.90" y="167.30" width="4.60" height="4.60" fill="#a9a9a9" stroke="#333" stroke-width="1"/>
<rect x="543.80" y="170.70" width="4.60" height="4.60" fill="#a9a9a9" stroke="#333" stroke-width="1"/>
<rect x="591.60" y="182.60" width="4.60" height="4.60" fill="#a9a9a9" stroke="#333" stroke-width="1"/>
<rect x="609.50" y="174.20" width="4.60" height="4.60" fill="#a9a9a9" stroke="#333" stroke-width="1"/>
<rect x="565.90" y="198.30" width="4.60" height="4.60" fill="#a9a9a9" stroke="#333" stroke-width="1"/>
<rect x="586.00" y="219.80" width="4.60" height="4.60" fill="#a9a9a9" stroke="#333" stroke-width="1"/>
<rect x="639.80" y="222.80" width="4.60" height="4.60" fill="#a9a9a9" stroke="#333" stroke-width="1"/>
<circle cx="483.20" cy="70.70" r="2.55" fill="#a6a6a6" stroke="#222" stroke-width="1.1"/>
<circle cx="510.00" cy="65.40" r="2.55" fill="#a6a6a6" stroke="#222" stroke-width="1.1"/>
<circle cx="579.30" cy="50.00" r="2.55" fill="#a6a6a6" stroke="#222" stroke-width="1.1"/>
<circle cx="565.40" cy="63.90" r="2.55" fill="#a6a6a6" stroke="#222" stroke-width="1.1"/>
<circle cx="552.90" cy="77.30" r="2.55" fill="#a6a6a6" stroke="#222" stroke-width="1.1"/>
<circle cx="520.20" cy="84.50" r="2.55" fill="#a6a6a6" stroke="#222" stroke-width="1.1"/>
<circle cx="522.50" cy="88.20" r="2.55" fill="#a6a6a6" stroke="#222" stroke-width="1.1"/>
<circle cx="507.00" cy="90.20" r="2.55" fill="#a6a6a6" stroke="#222" stroke-width="1.1"/>
<circle cx="530.40" cy="91.80" r="2.55" fill="#a6a6a6" stroke="#222" stroke-width="1.1"/>
<polygon points="497.90,72.10 500.35,76.30 495.45,76.30" fill="#a4a4a4" stroke="#303030" stroke-width="0.95" stroke-linejoin="miter"/>
<polygon points="549.10,51.20 551.55,55.40 546.65,55.40" fill="#a4a4a4" stroke="#303030" stroke-width="0.95" stroke-linejoin="miter"/>
<polygon points="479.10,96.90 481.55,101.10 476.65,101.10" fill="#a4a4a4" stroke="#303030" stroke-width="0.95" stroke-linejoin="miter"/>
<polygon points="539.80,116.80 542.25,121.00 537.35,121.00" fill="#a4a4a4" stroke="#303030" stroke-width="0.95" stroke-linejoin="miter"/>
<polygon points="540.70,120.10 543.15,124.30 538.25,124.30" fill="#a4a4a4" stroke="#303030" stroke-width="0.95" stroke-linejoin="miter"/>
<polygon points="561.40,124.40 563.85,128.60 558.95,128.60" fill="#a4a4a4" stroke="#303030" stroke-width="0.95" stroke-linejoin="miter"/>
<polygon points="607.00,128.20 609.45,132.40 604.55,132.40" fill="#a4a4a4" stroke="#303030" stroke-width="0.95" stroke-linejoin="miter"/>
<polygon points="537.70,137.50 540.15,141.70 535.25,141.70" fill="#a4a4a4" stroke="#303030" stroke-width="0.95" stroke-linejoin="miter"/>
<polygon points="551.40,163.30 553.85,167.50 548.95,167.50" fill="#a4a4a4" stroke="#303030" stroke-width="0.95" stroke-linejoin="miter"/>
<polygon points="544.30,167.30 546.75,171.50 541.85,171.50" fill="#a4a4a4" stroke="#303030" stroke-width="0.95" stroke-linejoin="miter"/>
<polygon points="495.60,174.60 498.05,178.80 493.15,178.80" fill="#a4a4a4" stroke="#303030" stroke-width="0.95" stroke-linejoin="miter"/>
<polygon points="571.60,193.00 574.05,197.20 569.15,197.20" fill="#a4a4a4" stroke="#303030" stroke-width="0.95" stroke-linejoin="miter"/>
<polygon points="572.80,195.00 575.25,199.20 570.35,199.20" fill="#a4a4a4" stroke="#303030" stroke-width="0.95" stroke-linejoin="miter"/>
<polygon points="538.90,202.50 541.35,206.70 536.45,206.70" fill="#a4a4a4" stroke="#303030" stroke-width="0.95" stroke-linejoin="miter"/>
<polygon points="516.55,65.70 515.73,66.27 515.51,66.80 515.69,67.79 514.70,67.61 514.17,67.83 513.60,68.65 513.03,67.83 512.50,67.61 511.51,67.79 511.69,66.80 511.47,66.27 510.65,65.70 511.47,65.13 511.69,64.60 511.51,63.61 512.50,63.79 513.03,63.57 513.60,62.75 514.17,63.57 514.70,63.79 515.69,63.61 515.51,64.60 515.73,65.13" fill="#000"/><ellipse cx="513.60" cy="65.70" rx="0.70" ry="0.48" fill="#fff"/>
<polygon points="598.95,81.50 598.13,82.07 597.91,82.60 598.09,83.59 597.10,83.41 596.57,83.63 596.00,84.45 595.43,83.63 594.90,83.41 593.91,83.59 594.09,82.60 593.87,82.07 593.05,81.50 593.87,80.93 594.09,80.40 593.91,79.41 594.90,79.59 595.43,79.37 596.00,78.55 596.57,79.37 597.10,79.59 598.09,79.41 597.91,80.40 598.13,80.93" fill="#000"/><ellipse cx="596.00" cy="81.50" rx="0.70" ry="0.48" fill="#fff"/>
<polygon points="496.15,107.10 495.33,107.67 495.11,108.20 495.29,109.19 494.30,109.01 493.77,109.23 493.20,110.05 492.63,109.23 492.10,109.01 491.11,109.19 491.29,108.20 491.07,107.67 490.25,107.10 491.07,106.53 491.29,106.00 491.11,105.01 492.10,105.19 492.63,104.97 493.20,104.15 493.77,104.97 494.30,105.19 495.29,105.01 495.11,106.00 495.33,106.53" fill="#000"/><ellipse cx="493.20" cy="107.10" rx="0.70" ry="0.48" fill="#fff"/>
<polygon points="515.05,103.90 514.23,104.47 514.01,105.00 514.19,105.99 513.20,105.81 512.67,106.03 512.10,106.85 511.53,106.03 511.00,105.81 510.01,105.99 510.19,105.00 509.97,104.47 509.15,103.90 509.97,103.33 510.19,102.80 510.01,101.81 511.00,101.99 511.53,101.77 512.10,100.95 512.67,101.77 513.20,101.99 514.19,101.81 514.01,102.80 514.23,103.33" fill="#000"/><ellipse cx="512.10" cy="103.90" rx="0.70" ry="0.48" fill="#fff"/>
<polygon points="521.15,107.50 520.33,108.07 520.11,108.60 520.29,109.59 519.30,109.41 518.77,109.63 518.20,110.45 517.63,109.63 517.10,109.41 516.11,109.59 516.29,108.60 516.07,108.07 515.25,107.50 516.07,106.93 516.29,106.40 516.11,105.41 517.10,105.59 517.63,105.37 518.20,104.55 518.77,105.37 519.30,105.59 520.29,105.41 520.11,106.40 520.33,106.93" fill="#000"/><ellipse cx="518.20" cy="107.50" rx="0.70" ry="0.48" fill="#fff"/>
<polygon points="480.45,132.90 479.63,133.47 479.41,134.00 479.59,134.99 478.60,134.81 478.07,135.03 477.50,135.85 476.93,135.03 476.40,134.81 475.41,134.99 475.59,134.00 475.37,133.47 474.55,132.90 475.37,132.33 475.59,131.80 475.41,130.81 476.40,130.99 476.93,130.77 477.50,129.95 478.07,130.77 478.60,130.99 479.59,130.81 479.41,131.80 479.63,132.33" fill="#000"/><ellipse cx="477.50" cy="132.90" rx="0.70" ry="0.48" fill="#fff"/>
<polygon points="540.45,125.20 539.63,125.77 539.41,126.30 539.59,127.29 538.60,127.11 538.07,127.33 537.50,128.15 536.93,127.33 536.40,127.11 535.41,127.29 535.59,126.30 535.37,125.77 534.55,125.20 535.37,124.63 535.59,124.10 535.41,123.11 536.40,123.29 536.93,123.07 537.50,122.25 538.07,123.07 538.60,123.29 539.59,123.11 539.41,124.10 539.63,124.63" fill="#000"/><ellipse cx="537.50" cy="125.20" rx="0.70" ry="0.48" fill="#fff"/>
<polygon points="541.85,127.90 541.03,128.47 540.81,129.00 540.99,129.99 540.00,129.81 539.47,130.03 538.90,130.85 538.33,130.03 537.80,129.81 536.81,129.99 536.99,129.00 536.77,128.47 535.95,127.90 536.77,127.33 536.99,126.80 536.81,125.81 537.80,125.99 538.33,125.77 538.90,124.95 539.47,125.77 540.00,125.99 540.99,125.81 540.81,126.80 541.03,127.33" fill="#000"/><ellipse cx="538.90" cy="127.90" rx="0.70" ry="0.48" fill="#fff"/>
<polygon points="574.75,130.00 573.93,130.57 573.71,131.10 573.89,132.09 572.90,131.91 572.37,132.13 571.80,132.95 571.23,132.13 570.70,131.91 569.71,132.09 569.89,131.10 569.67,130.57 568.85,130.00 569.67,129.43 569.89,128.90 569.71,127.91 570.70,128.09 571.23,127.87 571.80,127.05 572.37,127.87 572.90,128.09 573.89,127.91 573.71,128.90 573.93,129.43" fill="#000"/><ellipse cx="571.80" cy="130.00" rx="0.70" ry="0.48" fill="#fff"/>
<polygon points="545.25,139.50 544.43,140.07 544.21,140.60 544.39,141.59 543.40,141.41 542.87,141.63 542.30,142.45 541.73,141.63 541.20,141.41 540.21,141.59 540.39,140.60 540.17,140.07 539.35,139.50 540.17,138.93 540.39,138.40 540.21,137.41 541.20,137.59 541.73,137.37 542.30,136.55 542.87,137.37 543.40,137.59 544.39,137.41 544.21,138.40 544.43,138.93" fill="#000"/><ellipse cx="542.30" cy="139.50" rx="0.70" ry="0.48" fill="#fff"/>
<polygon points="560.25,141.80 559.43,142.37 559.21,142.90 559.39,143.89 558.40,143.71 557.87,143.93 557.30,144.75 556.73,143.93 556.20,143.71 555.21,143.89 555.39,142.90 555.17,142.37 554.35,141.80 555.17,141.23 555.39,140.70 555.21,139.71 556.20,139.89 556.73,139.67 557.30,138.85 557.87,139.67 558.40,139.89 559.39,139.71 559.21,140.70 559.43,141.23" fill="#000"/><ellipse cx="557.30" cy="141.80" rx="0.70" ry="0.48" fill="#fff"/>
<polygon points="567.75,144.50 566.93,145.07 566.71,145.60 566.89,146.59 565.90,146.41 565.37,146.63 564.80,147.45 564.23,146.63 563.70,146.41 562.71,146.59 562.89,145.60 562.67,145.07 561.85,144.50 562.67,143.93 562.89,143.40 562.71,142.41 563.70,142.59 564.23,142.37 564.80,141.55 565.37,142.37 565.90,142.59 566.89,142.41 566.71,143.40 566.93,143.93" fill="#000"/><ellipse cx="564.80" cy="144.50" rx="0.70" ry="0.48" fill="#fff"/>
<polygon points="525.85,146.10 525.03,146.67 524.81,147.20 524.99,148.19 524.00,148.01 523.47,148.23 522.90,149.05 522.33,148.23 521.80,148.01 520.81,148.19 520.99,147.20 520.77,146.67 519.95,146.10 520.77,145.53 520.99,145.00 520.81,144.01 521.80,144.19 522.33,143.97 522.90,143.15 523.47,143.97 524.00,144.19 524.99,144.01 524.81,145.00 525.03,145.53" fill="#000"/><ellipse cx="522.90" cy="146.10" rx="0.70" ry="0.48" fill="#fff"/>
<polygon points="524.95,157.20 524.13,157.77 523.91,158.30 524.09,159.29 523.10,159.11 522.57,159.33 522.00,160.15 521.43,159.33 520.90,159.11 519.91,159.29 520.09,158.30 519.87,157.77 519.05,157.20 519.87,156.63 520.09,156.10 519.91,155.11 520.90,155.29 521.43,155.07 522.00,154.25 522.57,155.07 523.10,155.29 524.09,155.11 523.91,156.10 524.13,156.63" fill="#000"/><ellipse cx="522.00" cy="157.20" rx="0.70" ry="0.48" fill="#fff"/>
<polygon points="559.45,163.50 558.63,164.07 558.41,164.60 558.59,165.59 557.60,165.41 557.07,165.63 556.50,166.45 555.93,165.63 555.40,165.41 554.41,165.59 554.59,164.60 554.37,164.07 553.55,163.50 554.37,162.93 554.59,162.40 554.41,161.41 555.40,161.59 555.93,161.37 556.50,160.55 557.07,161.37 557.60,161.59 558.59,161.41 558.41,162.40 558.63,162.93" fill="#000"/><ellipse cx="556.50" cy="163.50" rx="0.70" ry="0.48" fill="#fff"/>
<polygon points="550.35,166.40 549.53,166.97 549.31,167.50 549.49,168.49 548.50,168.31 547.97,168.53 547.40,169.35 546.83,168.53 546.30,168.31 545.31,168.49 545.49,167.50 545.27,166.97 544.45,166.40 545.27,165.83 545.49,165.30 545.31,164.31 546.30,164.49 546.83,164.27 547.40,163.45 547.97,164.27 548.50,164.49 549.49,164.31 549.31,165.30 549.53,165.83" fill="#000"/><ellipse cx="547.40" cy="166.40" rx="0.70" ry="0.48" fill="#fff"/>
<polygon points="564.15,174.40 563.33,174.97 563.11,175.50 563.29,176.49 562.30,176.31 561.77,176.53 561.20,177.35 560.63,176.53 560.10,176.31 559.11,176.49 559.29,175.50 559.07,174.97 558.25,174.40 559.07,173.83 559.29,173.30 559.11,172.31 560.10,172.49 560.63,172.27 561.20,171.45 561.77,172.27 562.30,172.49 563.29,172.31 563.11,173.30 563.33,173.83" fill="#000"/><ellipse cx="561.20" cy="174.40" rx="0.70" ry="0.48" fill="#fff"/>
<polygon points="574.35,174.60 573.53,175.17 573.31,175.70 573.49,176.69 572.50,176.51 571.97,176.73 571.40,177.55 570.83,176.73 570.30,176.51 569.31,176.69 569.49,175.70 569.27,175.17 568.45,174.60 569.27,174.03 569.49,173.50 569.31,172.51 570.30,172.69 570.83,172.47 571.40,171.65 571.97,172.47 572.50,172.69 573.49,172.51 573.31,173.50 573.53,174.03" fill="#000"/><ellipse cx="571.40" cy="174.60" rx="0.70" ry="0.48" fill="#fff"/>
<polygon points="591.75,180.00 590.93,180.57 590.71,181.10 590.89,182.09 589.90,181.91 589.37,182.13 588.80,182.95 588.23,182.13 587.70,181.91 586.71,182.09 586.89,181.10 586.67,180.57 585.85,180.00 586.67,179.43 586.89,178.90 586.71,177.91 587.70,178.09 588.23,177.87 588.80,177.05 589.37,177.87 589.90,178.09 590.89,177.91 590.71,178.90 590.93,179.43" fill="#000"/><ellipse cx="588.80" cy="180.00" rx="0.70" ry="0.48" fill="#fff"/>
<polygon points="606.35,180.70 605.53,181.27 605.31,181.80 605.49,182.79 604.50,182.61 603.97,182.83 603.40,183.65 602.83,182.83 602.30,182.61 601.31,182.79 601.49,181.80 601.27,181.27 600.45,180.70 601.27,180.13 601.49,179.60 601.31,178.61 602.30,178.79 602.83,178.57 603.40,177.75 603.97,178.57 604.50,178.79 605.49,178.61 605.31,179.60 605.53,180.13" fill="#000"/><ellipse cx="603.40" cy="180.70" rx="0.70" ry="0.48" fill="#fff"/>
<polygon points="568.15,211.00 567.33,211.57 567.11,212.10 567.29,213.09 566.30,212.91 565.77,213.13 565.20,213.95 564.63,213.13 564.10,212.91 563.11,213.09 563.29,212.10 563.07,211.57 562.25,211.00 563.07,210.43 563.29,209.90 563.11,208.91 564.10,209.09 564.63,208.87 565.20,208.05 565.77,208.87 566.30,209.09 567.29,208.91 567.11,209.90 567.33,210.43" fill="#000"/><ellipse cx="565.20" cy="211.00" rx="0.70" ry="0.48" fill="#fff"/>
<polygon points="583.35,231.00 582.53,231.57 582.31,232.10 582.49,233.09 581.50,232.91 580.97,233.13 580.40,233.95 579.83,233.13 579.30,232.91 578.31,233.09 578.49,232.10 578.27,231.57 577.45,231.00 578.27,230.43 578.49,229.90 578.31,228.91 579.30,229.09 579.83,228.87 580.40,228.05 580.97,228.87 581.50,229.09 582.49,228.91 582.31,229.90 582.53,230.43" fill="#000"/><ellipse cx="580.40" cy="231.00" rx="0.70" ry="0.48" fill="#fff"/>
<polygon points="494.45,172.00 493.63,172.57 493.41,173.10 493.59,174.09 492.60,173.91 492.07,174.13 491.50,174.95 490.93,174.13 490.40,173.91 489.41,174.09 489.59,173.10 489.37,172.57 488.55,172.00 489.37,171.43 489.59,170.90 489.41,169.91 490.40,170.09 490.93,169.87 491.50,169.05 492.07,169.87 492.60,170.09 493.59,169.91 493.41,170.90 493.63,171.43" fill="#000"/><ellipse cx="491.50" cy="172.00" rx="0.70" ry="0.48" fill="#fff"/>
<polygon points="495.25,173.00 494.43,173.57 494.21,174.10 494.39,175.09 493.40,174.91 492.87,175.13 492.30,175.95 491.73,175.13 491.20,174.91 490.21,175.09 490.39,174.10 490.17,173.57 489.35,173.00 490.17,172.43 490.39,171.90 490.21,170.91 491.20,171.09 491.73,170.87 492.30,170.05 492.87,170.87 493.40,171.09 494.39,170.91 494.21,171.90 494.43,172.43" fill="#000"/><ellipse cx="492.30" cy="173.00" rx="0.70" ry="0.48" fill="#fff"/>
<polygon points="495.95,173.80 495.13,174.37 494.91,174.90 495.09,175.89 494.10,175.71 493.57,175.93 493.00,176.75 492.43,175.93 491.90,175.71 490.91,175.89 491.09,174.90 490.87,174.37 490.05,173.80 490.87,173.23 491.09,172.70 490.91,171.71 491.90,171.89 492.43,171.67 493.00,170.85 493.57,171.67 494.10,171.89 495.09,171.71 494.91,172.70 495.13,173.23" fill="#000"/><ellipse cx="493.00" cy="173.80" rx="0.70" ry="0.48" fill="#fff"/>
<polygon points="496.65,174.70 495.83,175.27 495.61,175.80 495.79,176.79 494.80,176.61 494.27,176.83 493.70,177.65 493.13,176.83 492.60,176.61 491.61,176.79 491.79,175.80 491.57,175.27 490.75,174.70 491.57,174.13 491.79,173.60 491.61,172.61 492.60,172.79 493.13,172.57 493.70,171.75 494.27,172.57 494.80,172.79 495.79,172.61 495.61,173.60 495.83,174.13" fill="#000"/><ellipse cx="493.70" cy="174.70" rx="0.70" ry="0.48" fill="#fff"/>
<polygon points="497.55,175.60 496.73,176.17 496.51,176.70 496.69,177.69 495.70,177.51 495.17,177.73 494.60,178.55 494.03,177.73 493.50,177.51 492.51,177.69 492.69,176.70 492.47,176.17 491.65,175.60 492.47,175.03 492.69,174.50 492.51,173.51 493.50,173.69 494.03,173.47 494.60,172.65 495.17,173.47 495.70,173.69 496.69,173.51 496.51,174.50 496.73,175.03" fill="#000"/><ellipse cx="494.60" cy="175.60" rx="0.70" ry="0.48" fill="#fff"/>
<polygon points="494.40,173.00 496.85,177.20 491.95,177.20" fill="#a4a4a4" stroke="#303030" stroke-width="0.95" stroke-linejoin="miter"/>
<polygon points="495.40,174.50 497.85,178.70 492.95,178.70" fill="#a4a4a4" stroke="#303030" stroke-width="0.95" stroke-linejoin="miter"/>
<rect x="528.25" y="74.15" width="3.70" height="3.70" fill="#000"/>
<rect x="513.35" y="157.35" width="3.70" height="3.70" fill="#000"/>
<rect x="524.65" y="154.85" width="3.70" height="3.70" fill="#000"/>
<rect x="582.65" y="152.95" width="3.70" height="3.70" fill="#000"/>
<text x="530.20" y="89.90" font-size="12" class="r2" text-anchor="middle">4</text>
<text x="514.80" y="172.50" font-size="12" class="r2" text-anchor="middle">3</text>
<text x="526.90" y="170.70" font-size="12" class="r2" text-anchor="middle">1</text>
<text x="584.10" y="168.50" font-size="12" class="r2" text-anchor="middle">2</text>
</g>
</svg></body></html>
